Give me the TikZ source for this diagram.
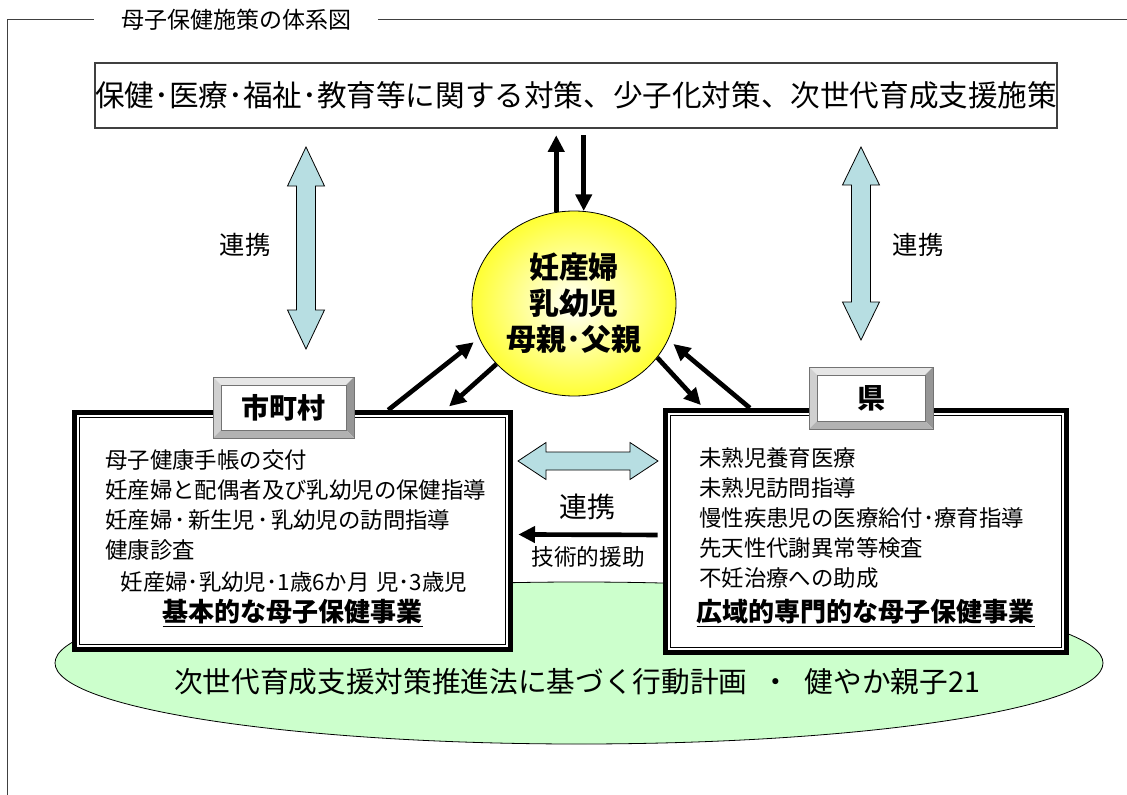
\documentclass[tikz,border=0pt]{standalone}
\usepackage{fontspec}
\setmainfont{Noto Sans CJK JP}
\usepackage{xcolor}
\usepackage{tikz}
\usetikzlibrary{shapes.geometric, arrows.meta, positioning, calc}

\definecolor{linkblue}{RGB}{183,222,226}
\definecolor{plangreen}{RGB}{204,255,204}
\definecolor{kidyellow}{RGB}{255,255,51}
\definecolor{bevellight}{RGB}{230,230,230}
\definecolor{bevelmid}{RGB}{208,208,208}
\definecolor{beveldark}{RGB}{150,150,150}
\definecolor{bevelshade}{RGB}{178,178,178}

\tikzset{
  frameline/.style={draw=black!75, line width=0.75pt},
  titletext/.style={inner xsep=20pt, inner ysep=0pt, font=\fontsize{17.25pt}{20pt}\selectfont},
  policybox/.style={draw=black!75, line width=0.9pt, fill=white, inner sep=0pt,
    minimum width=720pt, minimum height=48.75pt, font=\fontsize{22.2pt}{26pt}\selectfont},
  linkarrow/.style={draw=black, line width=0.6pt, fill=linkblue, line join=miter},
  linktext/.style={inner sep=0pt, font=\fontsize{19pt}{22pt}\selectfont},
  flowarrow/.style={line width=3.5pt, -{Triangle[length=12.5pt, width=12pt]}},
  kidcircle/.style={ellipse, draw=black, line width=0.6pt, inner color=white, outer color=kidyellow,
    minimum width=153pt, minimum height=138.75pt, inner sep=0pt, align=center,
    font=\bfseries\fontsize{22.4pt}{27pt}\selectfont},
  workbox/.style={draw=black, line width=3.75pt, fill=white, inner sep=0pt},
  workline/.style={draw=black, line width=1.1pt},
  worktext/.style={inner sep=0pt, align=left, font=\fontsize{16.8pt}{22.5pt}\selectfont},
  workhead/.style={inner sep=0pt, font=\bfseries\fontsize{19.5pt}{22pt}\selectfont},
  planoval/.style={ellipse, draw=black, line width=0.6pt, fill=plangreen,
    minimum width=786pt, minimum height=121.5pt},
  plantext/.style={inner sep=0pt, font=\fontsize{21.5pt}{24pt}\selectfont},
  bevelbox/.style={draw=black!55, line width=0.5pt, fill=white, inner sep=0pt,
    font=\bfseries\fontsize{21pt}{24pt}\selectfont,
    path picture={
      \path (path picture bounding box.north west) coordinate (bnw)
            (path picture bounding box.north east) coordinate (bne)
            (path picture bounding box.south east) coordinate (bse)
            (path picture bounding box.south west) coordinate (bsw);
      \fill[bevellight] (bnw) -- (bne) -- ([shift={(-6pt,-6pt)}]bne) -- ([shift={(6pt,-6pt)}]bnw) -- cycle;
      \fill[bevelmid] (bnw) -- (bsw) -- ([shift={(6pt,6pt)}]bsw) -- ([shift={(6pt,-6pt)}]bnw) -- cycle;
      \fill[beveldark] (bne) -- (bse) -- ([shift={(-6pt,6pt)}]bse) -- ([shift={(-6pt,-6pt)}]bne) -- cycle;
      \fill[bevelshade] (bsw) -- (bse) -- ([shift={(-6pt,6pt)}]bse) -- ([shift={(6pt,6pt)}]bsw) -- cycle;
      \draw[black!55, line width=0.5pt] ([shift={(6pt,-6pt)}]bnw) rectangle ([shift={(-6pt,6pt)}]bse);
    }},
}

\begin{document}
\begin{tikzpicture}[x=0.75pt, y=-0.75pt]
  \useasboundingbox (0,0) rectangle (1127,795);

  % frame and title
  \node[titletext] (title) at (236,20) {母子保健施策の体系図};
  \draw[frameline] (7,795) |- (title.west);
  \draw[frameline] (title.east) -- (1127,20);

  \node[policybox] (policy) at (576,95.5) {保健･医療･福祉･教育等に関する対策、少子化対策、次世代育成支援施策};

  % plan oval behind the two boxes
  \node[planoval] (plan) at (579,663) {};
  \node[plantext] (plantext) at (577,682) {次世代育成支援対策推進法に基づく行動計画\hspace{.5em}・\hspace{.5em}健やか親子21};

  % link arrows
  \draw[linkarrow] (306,147) -- (324.5,186) -- (315.5,186) -- (315.5,310) -- (324.5,310) -- (306,349)
    -- (287.5,310) -- (296.5,310) -- (296.5,186) -- (287.5,186) -- cycle;
  \draw[linkarrow] (861,147) -- (879.5,185) -- (870.5,185) -- (870.5,302) -- (879.5,302) -- (861,340)
    -- (842.5,302) -- (851.5,302) -- (851.5,185) -- (842.5,185) -- cycle;
  \draw[linkarrow] (518,461) -- (546,442.5) -- (546,452) -- (630,452) -- (630,442.5) -- (658,461)
    -- (630,479.5) -- (630,470) -- (546,470) -- (546,479.5) -- cycle;
  \node[linktext] (linkLtext) at (245,245) {連携};
  \node[linktext] (linkRtext) at (918,245) {連携};
  \node[linktext, font=\fontsize{21pt}{24pt}\selectfont] (linkMtext) at (587,507) {連携};

  % municipality
  \node[workbox, minimum width=327pt, minimum height=177.75pt] (munic) at (292.5,531) {};
  \draw[workline] ([shift={(5.5pt,-5.5pt)}]munic.north west) rectangle ([shift={(-5.5pt,5.5pt)}]munic.south east);
  \node[worktext, anchor=north west] (muntext) at (105,449) {母子健康手帳の交付\\妊産婦と配偶者及び乳幼児の保健指導\\妊産婦\hspace{.1em}･\hspace{.1em}新生児\hspace{.1em}･\hspace{.1em}乳幼児の訪問指導\\健康診査};
  \node[worktext] (munsub) at (294,582) {妊産婦･乳幼児･1歳6か月\hspace{.3em}児･3歳児};
  \node[workhead] (munhead) at (292.5,613) {\underline{基本的な母子保健事業}};

  % prefecture
  \node[workbox, minimum width=300.75pt, minimum height=181.5pt] (pref) at (866,531.5) {};
  \draw[workline] ([shift={(5.5pt,-5.5pt)}]pref.north west) rectangle ([shift={(-5.5pt,5.5pt)}]pref.south east);
  \node[worktext, anchor=north west] (preftext) at (699,447) {未熟児養育医療\\未熟児訪問指導\\慢性疾患児の医療給付･療育指導\\先天性代謝異常等検査\\不妊治療への助成};
  \node[workhead] (prefhead) at (865.5,613) {\underline{広域的専門的な母子保健事業}};

  \node[bevelbox, minimum width=105.75pt, minimum height=45.75pt] (munlabel) at (283.5,407.5) {市町村};
  \node[bevelbox, minimum width=93pt, minimum height=46.5pt] (preflabel) at (871,398) {県};

  % mothers and children
  \node[kidcircle] (mother) at (574,303.5) {妊産婦\\乳幼児\\母親･父親};

  \draw[flowarrow, shorten >=5pt] (mother.101) -- (mother.101 |- policy.south);
  \draw[flowarrow, shorten <=5pt] (mother.84 |- policy.south) -- (mother.84);
  \draw[flowarrow, shorten >=5pt] ($(munic.north west)!0.717!(munic.north east)$) -- (mother.200);
  \draw[flowarrow, shorten >=4pt] (mother.218) -- ($(munic.north west)!0.846!(munic.north east)$);
  \draw[flowarrow, shorten >=3pt] (mother.-33) -- ($(pref.north west)!0.1!(pref.north east)$);
  \draw[flowarrow, shorten >=5pt] ($(pref.north west)!0.214!(pref.north east)$) -- (mother.-21);

  \draw[flowarrow, shorten <=4pt, shorten >=4pt] ([yshift=-2.6pt]pref.west) -- ([yshift=-2.6pt]munic.east);
  \node[linktext, font=\fontsize{17pt}{20pt}\selectfont] (aidtext) at (588,557) {技術的援助};
\end{tikzpicture}
\end{document}
